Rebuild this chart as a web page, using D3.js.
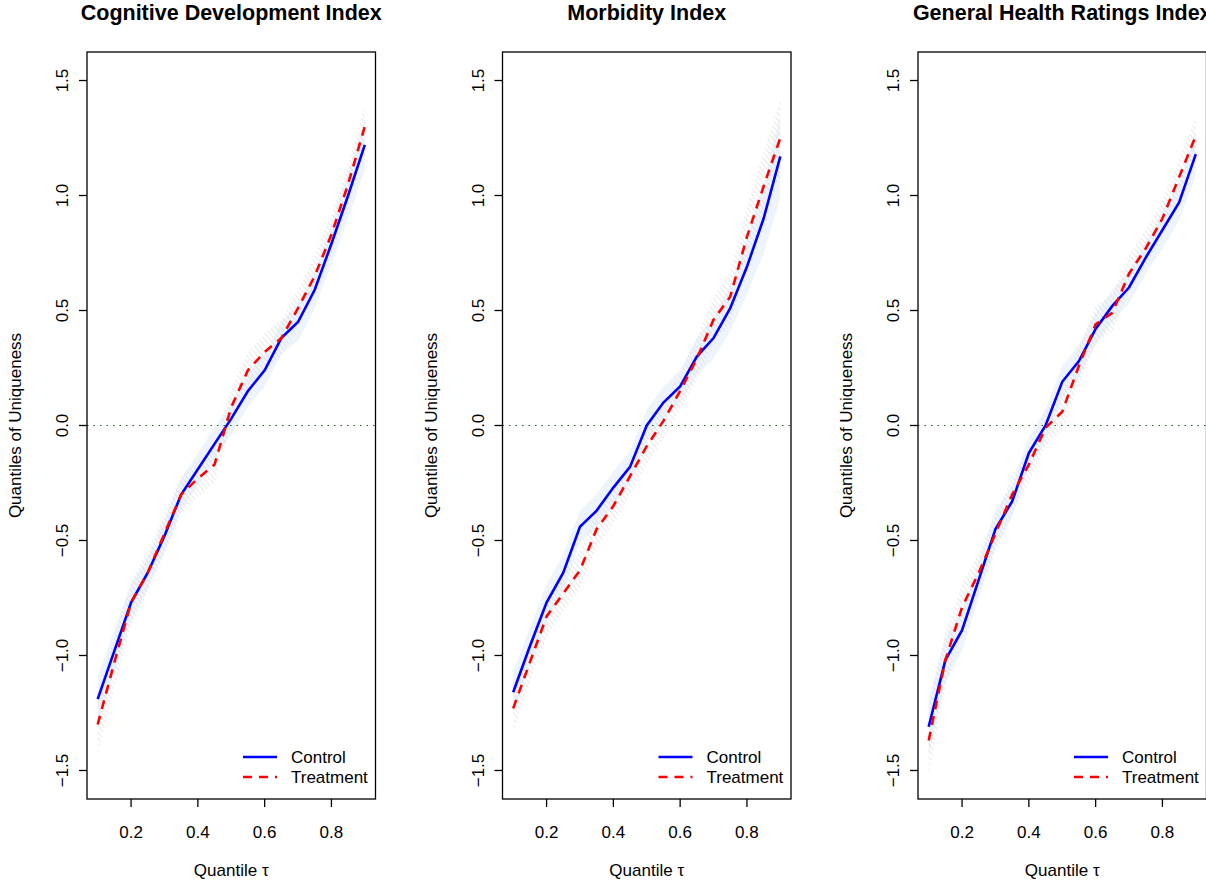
<!doctype html>
<html>
<head>
<meta charset="utf-8">
<title>Quantiles of Uniqueness</title>
<script src="https://d3js.org/d3.v7.min.js"></script>
<style>
  body { margin: 0; background: #fff; }
  text { font-family: "Liberation Sans", Arial, sans-serif; fill: #000; }
  .title { font-weight: bold; font-size: 21.5px; }
  .tick { font-size: 17px; }
  .lab { font-size: 17px; }
</style>
</head>
<body>
<div id="chart"></div>
<script>
// quantile grid
var taus = [0.10, 0.15, 0.20, 0.25, 0.30, 0.35, 0.40, 0.45, 0.50, 0.55, 0.60, 0.65, 0.70, 0.75, 0.80, 0.85, 0.90];

var titles = ["Cognitive Development Index", "Morbidity Index", "General Health Ratings Index"];

// panel 1
var cogControl   = [-1.19, -0.98, -0.77, -0.64, -0.48, -0.30, -0.19, -0.08, 0.03, 0.15, 0.24, 0.38, 0.45, 0.59, 0.79, 1.00, 1.22];
var cogTreatment = [-1.30, -1.03, -0.77, -0.64, -0.47, -0.30, -0.23, -0.17, 0.08, 0.24, 0.32, 0.38, 0.51, 0.65, 0.83, 1.05, 1.30];
var cogCtlBand   = [0.10, 0.09, 0.08, 0.07, 0.07, 0.07, 0.07, 0.07, 0.07, 0.07, 0.07, 0.07, 0.08, 0.08, 0.09, 0.10, 0.11];
var cogTrtBand   = [0.13, 0.11, 0.10, 0.09, 0.09, 0.08, 0.08, 0.08, 0.08, 0.08, 0.08, 0.08, 0.08, 0.09, 0.09, 0.09, 0.09];

// panel 2
var morControl   = [-1.16, -0.96, -0.77, -0.64, -0.44, -0.37, -0.27, -0.18, 0.00, 0.10, 0.17, 0.30, 0.38, 0.51, 0.69, 0.90, 1.17];
var morTreatment = [-1.23, -1.03, -0.83, -0.73, -0.63, -0.45, -0.35, -0.22, -0.09, 0.02, 0.15, 0.29, 0.46, 0.56, 0.82, 1.04, 1.25];
var morCtlBand   = [0.09, 0.08, 0.08, 0.08, 0.07, 0.07, 0.07, 0.07, 0.07, 0.07, 0.07, 0.08, 0.09, 0.10, 0.12, 0.15, 0.18];
var morTrtBand   = [0.10, 0.09, 0.09, 0.08, 0.08, 0.08, 0.08, 0.08, 0.08, 0.08, 0.08, 0.09, 0.10, 0.11, 0.13, 0.15, 0.17];

// panel 3
var genControl   = [-1.31, -1.02, -0.89, -0.67, -0.45, -0.33, -0.12, 0.00, 0.19, 0.28, 0.42, 0.52, 0.60, 0.73, 0.85, 0.97, 1.18];
var genTreatment = [-1.37, -1.02, -0.79, -0.64, -0.47, -0.30, -0.17, -0.01, 0.06, 0.26, 0.44, 0.49, 0.66, 0.77, 0.90, 1.08, 1.26];
var genCtlBand   = [0.12, 0.10, 0.09, 0.08, 0.08, 0.07, 0.07, 0.07, 0.07, 0.07, 0.07, 0.07, 0.07, 0.07, 0.08, 0.08, 0.09];
var genTrtBand   = [0.15, 0.12, 0.10, 0.09, 0.08, 0.08, 0.08, 0.08, 0.08, 0.08, 0.08, 0.08, 0.08, 0.08, 0.08, 0.08, 0.08];

var xTicks = [0.2, 0.4, 0.6, 0.8];
var yTicks = [-1.5, -1.0, -0.5, 0.0, 0.5, 1.0, 1.5];
var legendLabels = ["Control", "Treatment"];

var panels = [
  { title: titles[0], ctl: cogControl, trt: cogTreatment, ctlBand: cogCtlBand, trtBand: cogTrtBand },
  { title: titles[1], ctl: morControl, trt: morTreatment, ctlBand: morCtlBand, trtBand: morTrtBand },
  { title: titles[2], ctl: genControl, trt: genTreatment, ctlBand: genCtlBand, trtBand: genTrtBand }
];

var W = 1206, H = 881, panelW = 415.5;
var margin = {left: 87, top: 52, plotW: 288.5, plotH: 747};

var svg = d3.select("#chart").append("svg")
    .attr("width", W)
    .attr("height", H);

// hatch for the treatment band
var defs = svg.append("defs");
defs.append("pattern")
    .attr("id", "hatch")
    .attr("patternUnits", "userSpaceOnUse")
    .attr("width", 4).attr("height", 4)
    .attr("patternTransform", "rotate(-40)")
  .append("line")
    .attr("x1", 0).attr("y1", 0).attr("x2", 0).attr("y2", 4)
    .attr("stroke", "#dcdcdc").attr("stroke-width", 1.3);

var fmt = function(v) { return d3.format(".1f")(v).replace("-", "\u2212"); };

panels.forEach(function(p, i) {
  var g = svg.append("g").attr("transform", "translate(" + (i * panelW) + ",0)");

  var x = d3.scaleLinear().domain([0.068, 0.932]).range([margin.left, margin.left + margin.plotW]);
  var y = d3.scaleLinear().domain([-1.624, 1.624]).range([margin.top + margin.plotH, margin.top]);

  var clipId = "clip" + i;
  defs.append("clipPath").attr("id", clipId)
    .append("rect")
      .attr("x", margin.left).attr("y", margin.top)
      .attr("width", margin.plotW).attr("height", margin.plotH);

  var plot = g.append("g").attr("clip-path", "url(#" + clipId + ")");

  var rows = taus.map(function(t, k) {
    return { t: t, c: p.ctl[k], r: p.trt[k], cb: p.ctlBand[k], rb: p.trtBand[k] };
  });

  var ctlArea = d3.area()
      .x(function(d) { return x(d.t); })
      .y0(function(d) { return y(d.c - d.cb); })
      .y1(function(d) { return y(d.c + d.cb); });
  var trtArea = d3.area()
      .x(function(d) { return x(d.t); })
      .y0(function(d) { return y(d.r - d.rb); })
      .y1(function(d) { return y(d.r + d.rb); });

  plot.append("path").datum(rows)
      .attr("d", ctlArea)
      .attr("fill", "#edf4fc");
  plot.append("path").datum(rows)
      .attr("d", trtArea)
      .attr("fill", "url(#hatch)");

  // zero line
  plot.append("line")
      .attr("x1", margin.left).attr("x2", margin.left + margin.plotW)
      .attr("y1", y(0)).attr("y2", y(0))
      .attr("stroke", "#1f5f1f")
      .attr("stroke-width", 1)
      .attr("stroke-dasharray", "1.5,5");

  var ctlLine = d3.line().x(function(d) { return x(d.t); }).y(function(d) { return y(d.c); });
  var trtLine = d3.line().x(function(d) { return x(d.t); }).y(function(d) { return y(d.r); });

  plot.append("path").datum(rows)
      .attr("d", ctlLine)
      .attr("fill", "none")
      .attr("stroke", "#0000ff")
      .attr("stroke-width", 2.6);
  plot.append("path").datum(rows)
      .attr("d", trtLine)
      .attr("fill", "none")
      .attr("stroke", "#ff0000")
      .attr("stroke-width", 2.6)
      .attr("stroke-dasharray", "9,7");

  // box
  g.append("rect")
      .attr("x", margin.left).attr("y", margin.top)
      .attr("width", margin.plotW).attr("height", margin.plotH)
      .attr("fill", "none").attr("stroke", "#000").attr("stroke-width", 1.3);

  // x axis
  var bottom = margin.top + margin.plotH;
  xTicks.forEach(function(t) {
    g.append("line")
        .attr("x1", x(t)).attr("x2", x(t))
        .attr("y1", bottom).attr("y2", bottom + 8)
        .attr("stroke", "#000").attr("stroke-width", 1.3);
    g.append("text")
        .attr("class", "tick")
        .attr("x", x(t)).attr("y", 838)
        .attr("text-anchor", "middle")
        .text(d3.format(".1f")(t));
  });

  // y axis
  yTicks.forEach(function(v) {
    g.append("line")
        .attr("x1", margin.left - 8).attr("x2", margin.left)
        .attr("y1", y(v)).attr("y2", y(v))
        .attr("stroke", "#000").attr("stroke-width", 1.3);
    g.append("text")
        .attr("class", "tick")
        .attr("transform", "translate(68," + y(v) + ") rotate(-90)")
        .attr("text-anchor", "middle")
        .text(fmt(v));
  });

  // labels
  g.append("text")
      .attr("class", "title")
      .attr("x", margin.left + margin.plotW / 2).attr("y", 20)
      .attr("text-anchor", "middle")
      .text(p.title);
  g.append("text")
      .attr("class", "lab")
      .attr("x", margin.left + margin.plotW / 2).attr("y", 876)
      .attr("text-anchor", "middle")
      .text("Quantile \u03c4");
  g.append("text")
      .attr("class", "lab")
      .attr("transform", "translate(21," + y(0) + ") rotate(-90)")
      .attr("text-anchor", "middle")
      .text("Quantiles of Uniqueness");

  // legend
  var lg = g.append("g");
  lg.append("line")
      .attr("x1", 243).attr("x2", 277).attr("y1", 757).attr("y2", 757)
      .attr("stroke", "#0000ff").attr("stroke-width", 2.6);
  lg.append("line")
      .attr("x1", 243).attr("x2", 277).attr("y1", 777).attr("y2", 777)
      .attr("stroke", "#ff0000").attr("stroke-width", 2.6)
      .attr("stroke-dasharray", "9,7");
  lg.selectAll("text").data(legendLabels).enter().append("text")
      .attr("class", "lab")
      .attr("x", 291)
      .attr("y", function(d, k) { return 763 + k * 20; })
      .text(function(d) { return d; });
});
</script>
</body>
</html>
